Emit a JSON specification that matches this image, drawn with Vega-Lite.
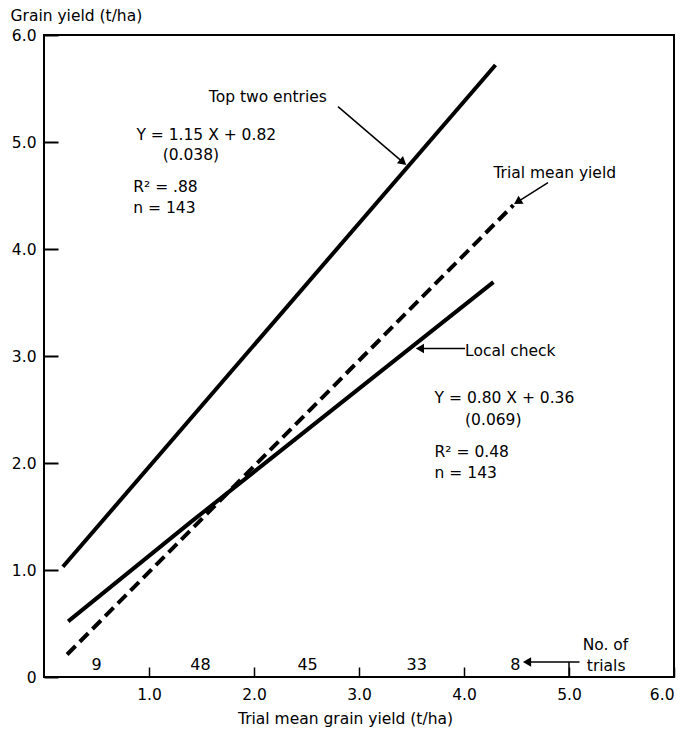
{
  "$schema": "https://vega.github.io/schema/vega-lite/v6.json",
  "autosize": {"type": "none"},
  "width": 630,
  "height": 642,
  "padding": {"left": 44, "top": 35, "right": 17, "bottom": 62},
  "background": "white",
  "config": {
    "view": {"stroke": "black", "strokeWidth": 2},
    "font": "DejaVu Sans",
    "axis": {"labelFont": "DejaVu Sans", "titleFont": "DejaVu Sans", "labelColor": "black", "titleColor": "black", "labelFontSize": 15.5, "titleFontSize": 15.5, "titleFontWeight": "normal", "grid": false, "domain": false, "tickColor": "black", "tickWidth": 1.5}
  },
  "datasets": {
    "lines": [
      {"series": "Top two entries", "x": 0.18, "y": 1.03},
      {"series": "Top two entries", "x": 4.3, "y": 5.72},
      {"series": "Local check", "x": 0.23, "y": 0.52},
      {"series": "Local check", "x": 1.4, "y": 1.45},
      {"series": "Local check", "x": 4.28, "y": 3.69},
      {"series": "Trial mean yield", "x": 0.22, "y": 0.21},
      {"series": "Trial mean yield", "x": 4.47, "y": 4.41}
    ],
    "ann": [
      {"label": "Top two entries", "x": 1.57, "y": 5.42},
      {"label": "Y = 1.15 X + 0.82", "x": 0.88, "y": 5.07},
      {"label": "(0.038)", "x": 1.13, "y": 4.88},
      {"label": "R² = .88", "x": 0.85, "y": 4.58},
      {"label": "n = 143", "x": 0.85, "y": 4.38},
      {"label": "Trial mean yield", "x": 4.28, "y": 4.71},
      {"label": "Local check", "x": 4.01, "y": 3.05},
      {"label": "Y = 0.80 X + 0.36", "x": 3.72, "y": 2.61},
      {"label": "(0.069)", "x": 4.01, "y": 2.40},
      {"label": "R² = 0.48", "x": 3.72, "y": 2.10},
      {"label": "n = 143", "x": 3.72, "y": 1.91},
      {"label": "No. of", "x": 5.13, "y": 0.30},
      {"label": "trials", "x": 5.17, "y": 0.10}
    ],
    "counts": [
      {"label": "9", "x": 0.5, "y": 0.11},
      {"label": "48", "x": 1.49, "y": 0.11},
      {"label": "45", "x": 2.51, "y": 0.11},
      {"label": "33", "x": 3.55, "y": 0.11},
      {"label": "8", "x": 4.49, "y": 0.11}
    ],
    "arrows": [
      {"id": "top", "x": 2.8, "y": 5.33, "x2": 3.42, "y2": 4.81},
      {"id": "mean", "x": 4.8, "y": 4.62, "x2": 4.51, "y2": 4.44},
      {"id": "local", "x": 4.01, "y": 3.07, "x2": 3.58, "y2": 3.07},
      {"id": "trials", "x": 5.1, "y": 0.14, "x2": 4.6, "y2": 0.14}
    ]
  },
  "layer": [
    {
      "data": {"name": "lines"},
      "transform": [{"filter": "datum.series !== 'Trial mean yield'"}],
      "mark": {"type": "line", "color": "black", "strokeWidth": 4},
      "encoding": {
        "x": {"field": "x", "type": "quantitative", "scale": {"domain": [0, 6], "nice": false}, "axis": {"values": [1, 2, 3, 4, 5, 6], "format": ".1f", "ticks": true, "tickSize": -10, "labelPadding": 20, "title": "Trial mean grain yield (t/ha)", "titleX": 301, "titleY": 41, "titleBaseline": "middle"}},
        "y": {"field": "y", "type": "quantitative", "scale": {"domain": [0, 6], "nice": false}, "axis": {"values": [0, 1, 2, 3, 4, 5, 6], "labelExpr": "datum.value == 0 ? '0' : format(datum.value, '.1f')", "ticks": false, "grid": true, "gridColor": "black", "gridOpacity": 1, "gridWidth": 2, "gridDash": [14, 2000], "labelPadding": 8, "title": "Grain yield (t/ha)", "titleAngle": 0, "titleAlign": "left", "titleBaseline": "middle", "titleX": -34, "titleY": -20}},
        "detail": {"field": "series"}
      }
    },
    {
      "data": {"name": "lines"},
      "transform": [{"filter": "datum.series === 'Trial mean yield'"}],
      "mark": {"type": "line", "color": "black", "strokeWidth": 4, "strokeDash": [12, 6]},
      "encoding": {
        "x": {"field": "x", "type": "quantitative"},
        "y": {"field": "y", "type": "quantitative"}
      }
    },
    {
      "data": {"values": [{"v": 5}]},
      "mark": {"type": "rule", "color": "black", "strokeWidth": 1.5},
      "encoding": {
        "x": {"field": "v", "type": "quantitative"},
        "y": {"datum": 0, "type": "quantitative"},
        "y2": {"datum": 0.14}
      }
    },
    {
      "data": {"name": "arrows"},
      "mark": {"type": "rule", "color": "black", "strokeWidth": 1.5},
      "encoding": {
        "x": {"field": "x", "type": "quantitative"},
        "y": {"field": "y", "type": "quantitative"},
        "x2": {"field": "x2"},
        "y2": {"field": "y2"}
      }
    },
    {
      "data": {"name": "arrows"},
      "transform": [{"filter": "datum.id === 'top'"}],
      "mark": {"type": "point", "shape": "triangle-up", "filled": true, "color": "black", "size": 90, "angle": 130, "opacity": 1},
      "encoding": {"x": {"field": "x2", "type": "quantitative"}, "y": {"field": "y2", "type": "quantitative"}}
    },
    {
      "data": {"name": "arrows"},
      "transform": [{"filter": "datum.id === 'mean'"}],
      "mark": {"type": "point", "shape": "triangle-up", "filled": true, "color": "black", "size": 90, "angle": 238, "opacity": 1},
      "encoding": {"x": {"field": "x2", "type": "quantitative"}, "y": {"field": "y2", "type": "quantitative"}}
    },
    {
      "data": {"name": "arrows"},
      "transform": [{"filter": "datum.id === 'local' || datum.id === 'trials'"}],
      "mark": {"type": "point", "shape": "triangle-up", "filled": true, "color": "black", "size": 90, "angle": 270, "opacity": 1},
      "encoding": {"x": {"field": "x2", "type": "quantitative"}, "y": {"field": "y2", "type": "quantitative"}}
    },
    {
      "data": {"name": "ann"},
      "mark": {"type": "text", "align": "left", "baseline": "middle", "fontSize": 15.5, "color": "black"},
      "encoding": {
        "x": {"field": "x", "type": "quantitative"},
        "y": {"field": "y", "type": "quantitative"},
        "text": {"field": "label"}
      }
    },
    {
      "data": {"name": "counts"},
      "mark": {"type": "text", "align": "center", "baseline": "middle", "fontSize": 16, "color": "black"},
      "encoding": {
        "x": {"field": "x", "type": "quantitative"},
        "y": {"field": "y", "type": "quantitative"},
        "text": {"field": "label"}
      }
    }
  ]
}
